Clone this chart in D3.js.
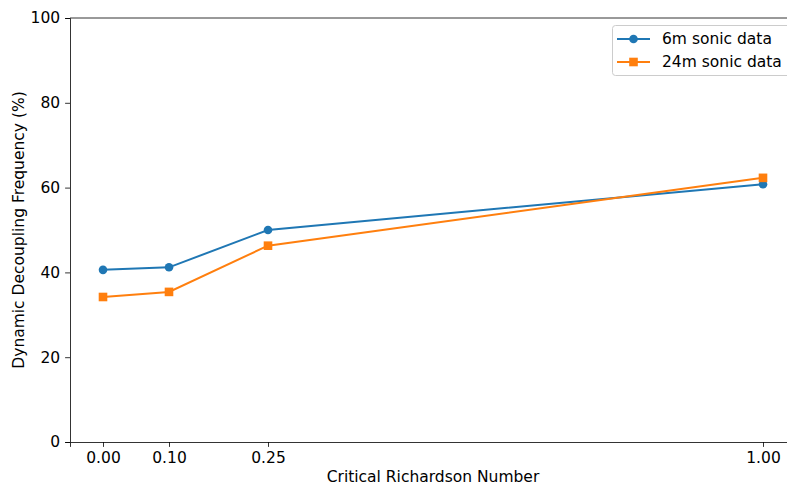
<!DOCTYPE html>
<html>
<head>
<meta charset="utf-8">
<script src="https://cdn.jsdelivr.net/npm/d3@7"></script>
<style>
  html, body { margin: 0; padding: 0; background: #fff; }
  svg { display: block; font-family: "DejaVu Sans", sans-serif; }
</style>
</head>
<body>
<svg id="chart" width="787" height="485"></svg>
<script>
// Critical Richardson number thresholds and decoupling frequencies (%)
const thresholds = [0.00, 0.10, 0.25, 1.00];
const sonic6m = [40.6, 41.2, 50.0, 60.8];
const sonic24m = [34.2, 35.4, 46.3, 62.3];
const xTickLabels = ["0.00", "0.10", "0.25", "1.00"];
const yTicks = [0, 20, 40, 60, 80, 100];
const seriesNames = ["6m sonic data", "24m sonic data"];
const seriesColors = ["#1f77b4", "#ff7f0e"];

const svg = d3.select("#chart");
const plotLeft = 70, plotRight = 796, plotTop = 18, plotBottom = 442;
const fontSize = 15.5;

const x = d3.scaleLinear().domain([-0.05, 1.05]).range([plotLeft, plotRight]);
const y = d3.scaleLinear().domain([0, 100]).range([plotBottom, plotTop]);

// axes
const xAxis = d3.axisBottom(x).tickValues(thresholds)
  .tickFormat((d, i) => xTickLabels[i]).tickSizeOuter(0).tickSize(4.9).tickPadding(4.9);
const yAxis = d3.axisLeft(y).tickValues(yTicks).tickSizeOuter(0).tickSize(4.9).tickPadding(4.9);

const gx = svg.append("g").attr("transform", `translate(0,${plotBottom})`).call(xAxis);
const gy = svg.append("g").attr("transform", `translate(${plotLeft},0)`).call(yAxis);
[gx, gy].forEach(g => {
  g.attr("font-size", fontSize).attr("font-family", "DejaVu Sans");
  g.selectAll("text").attr("fill", "#000");
  g.selectAll("line").attr("stroke", "#000").attr("stroke-width", 0.8);
  g.select(".domain").attr("stroke", "#000").attr("stroke-width", 0.8);
});

// top spine
svg.append("line").attr("x1", plotLeft).attr("x2", plotRight).attr("y1", plotTop).attr("y2", plotTop)
  .attr("stroke", "#000").attr("stroke-width", 0.8);

// axis titles
svg.append("text").attr("x", (plotLeft + plotRight) / 2).attr("y", 482)
  .attr("text-anchor", "middle").attr("font-size", fontSize).text("Critical Richardson Number");
svg.append("text")
  .attr("transform", `translate(23.5,${(plotTop + plotBottom) / 2}) rotate(-90)`)
  .attr("text-anchor", "middle").attr("font-size", fontSize)
  .text("Dynamic Decoupling Frequency (%)");

const line = d3.line().x((d, i) => x(thresholds[i])).y(d => y(d));

const plot = svg.append("g");
// 6m series: circles
plot.append("path").datum(sonic6m).attr("d", line).attr("fill", "none")
  .attr("stroke", seriesColors[0]).attr("stroke-width", 2);
plot.selectAll("circle.s6").data(sonic6m).enter().append("circle")
  .attr("cx", (d, i) => x(thresholds[i])).attr("cy", d => y(d)).attr("r", 4.3)
  .attr("fill", seriesColors[0]);

// 24m series: squares
plot.append("path").datum(sonic24m).attr("d", line).attr("fill", "none")
  .attr("stroke", seriesColors[1]).attr("stroke-width", 2);
plot.selectAll("rect.s24").data(sonic24m).enter().append("rect")
  .attr("x", (d, i) => x(thresholds[i]) - 4.3).attr("y", d => y(d) - 4.3)
  .attr("width", 8.6).attr("height", 8.6).attr("fill", seriesColors[1]);

// legend
const lg = svg.append("g");
lg.append("rect").attr("x", 612.5).attr("y", 25.5).attr("width", 190).attr("height", 50)
  .attr("rx", 3).attr("fill", "#fff").attr("fill-opacity", 0.8)
  .attr("stroke", "#ccc").attr("stroke-width", 1);
seriesNames.forEach((name, i) => {
  const cy = 39 + i * 23;
  lg.append("line").attr("x1", 617).attr("x2", 650).attr("y1", cy).attr("y2", cy)
    .attr("stroke", seriesColors[i]).attr("stroke-width", 2);
  if (i === 0) {
    lg.append("circle").attr("cx", 633.5).attr("cy", cy).attr("r", 4.3).attr("fill", seriesColors[i]);
  } else {
    lg.append("rect").attr("x", 633.5 - 4.3).attr("y", cy - 4.3).attr("width", 8.6).attr("height", 8.6)
      .attr("fill", seriesColors[i]);
  }
  lg.append("text").attr("x", 662).attr("y", cy).attr("dy", "0.35em")
    .attr("font-size", fontSize).text(name);
});
</script>
</body>
</html>
